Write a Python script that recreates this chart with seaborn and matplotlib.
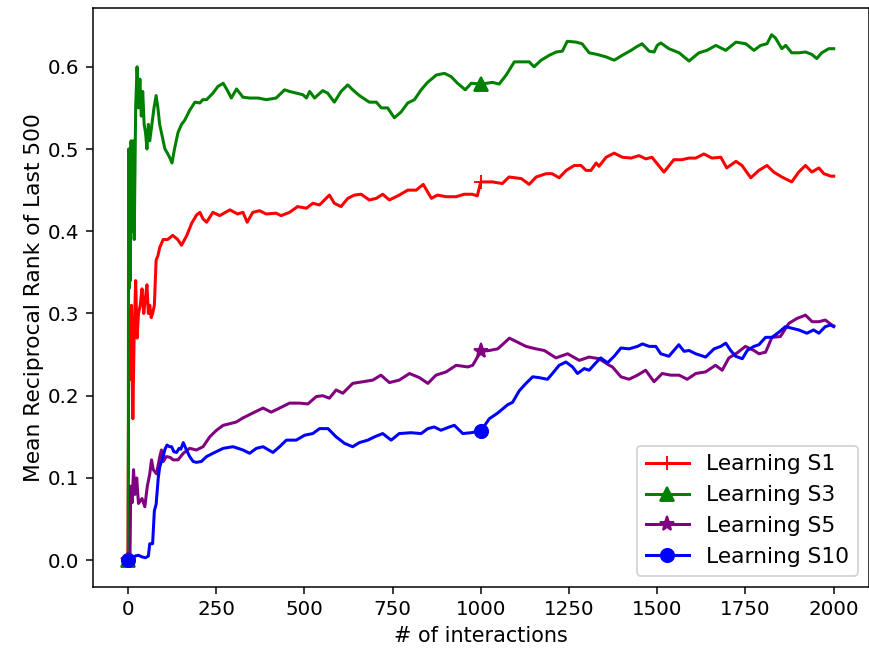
import numpy as np
import pandas as pd
import matplotlib
matplotlib.use("Agg")
import matplotlib.pyplot as plt
import seaborn as sns

# Mean reciprocal rank over the last 500 interactions, per learning setting
s1_x = [0, 3, 6, 10, 14, 18, 22, 26, 30, 35,
        40, 45, 50, 54, 58, 62, 66, 70, 75, 80,
        85, 90, 100, 113, 127, 141, 152, 167, 181, 195,
        204, 213, 223, 241, 260, 289, 311, 326, 338, 354,
        373, 392, 420, 434, 458, 481, 506, 524, 543, 557,
        571, 585, 604, 623, 642, 661, 684, 704, 722, 741,
        769, 793, 817, 837, 860, 877, 902, 930, 953, 976,
        990, 1000, 1033, 1061, 1080, 1115, 1137, 1157, 1185, 1202,
        1222, 1242, 1265, 1284, 1298, 1312, 1327, 1335, 1355, 1378,
        1401, 1426, 1448, 1468, 1485, 1500, 1519, 1547, 1570, 1590,
        1609, 1632, 1655, 1680, 1697, 1723, 1740, 1765, 1788, 1811,
        1830, 1853, 1881, 1901, 1920, 1938, 1958, 1972, 1992, 2000]
s1_y = [0, 0.30, 0.22, 0.31, 0.172, 0.28, 0.34, 0.27, 0.30, 0.31,
        0.33, 0.30, 0.32, 0.335, 0.30, 0.31, 0.295, 0.30, 0.31, 0.365,
        0.37, 0.38, 0.39, 0.39, 0.395, 0.39, 0.383, 0.395, 0.41, 0.42,
        0.423, 0.415, 0.411, 0.423, 0.419, 0.426, 0.421, 0.423, 0.411, 0.423,
        0.425, 0.421, 0.422, 0.419, 0.423, 0.43, 0.428, 0.434, 0.432, 0.438,
        0.444, 0.434, 0.43, 0.44, 0.444, 0.445, 0.438, 0.44, 0.445, 0.438,
        0.444, 0.45, 0.45, 0.457, 0.44, 0.444, 0.442, 0.442, 0.445, 0.445,
        0.443, 0.46, 0.46, 0.458, 0.466, 0.464, 0.457, 0.466, 0.47, 0.47,
        0.465, 0.474, 0.48, 0.48, 0.474, 0.474, 0.483, 0.479, 0.49, 0.495,
        0.49, 0.489, 0.492, 0.488, 0.49, 0.482, 0.472, 0.487, 0.487, 0.489,
        0.489, 0.494, 0.489, 0.49, 0.477, 0.485, 0.48, 0.465, 0.474, 0.48,
        0.472, 0.466, 0.46, 0.472, 0.48, 0.472, 0.477, 0.47, 0.467, 0.467]

s3_x = [0, 1, 2, 3, 5, 7, 9, 12, 15, 18,
        22, 26, 30, 34, 38, 42, 46, 50, 54, 58,
        62, 68, 74, 80, 85, 90, 95, 100, 105, 112,
        118, 125, 132, 142, 152, 161, 175, 190, 204, 212,
        223, 241, 255, 270, 281, 293, 308, 326, 345, 369,
        392, 420, 444, 458, 477, 496, 506, 515, 529, 552,
        566, 585, 604, 623, 637, 656, 684, 704, 718, 736,
        755, 774, 793, 812, 831, 849, 874, 897, 916, 934,
        956, 973, 1000, 1033, 1052, 1072, 1095, 1118, 1137, 1151,
        1171, 1194, 1214, 1231, 1245, 1270, 1287, 1307, 1330, 1355,
        1378, 1401, 1426, 1440, 1457, 1477, 1491, 1500, 1510, 1533,
        1562, 1590, 1618, 1641, 1666, 1694, 1723, 1751, 1774, 1793,
        1811, 1824, 1835, 1853, 1864, 1881, 1901, 1920, 1938, 1952,
        1966, 1986, 2000]
s3_y = [0, 0, 0.50, 0.33, 0.50, 0.34, 0.51, 0.40, 0.51, 0.39,
        0.55, 0.60, 0.55, 0.585, 0.54, 0.57, 0.53, 0.52, 0.50, 0.53,
        0.51, 0.53, 0.55, 0.565, 0.55, 0.53, 0.52, 0.51, 0.50, 0.495,
        0.49, 0.483, 0.50, 0.52, 0.53, 0.535, 0.547, 0.557, 0.556, 0.56,
        0.56, 0.568, 0.576, 0.58, 0.572, 0.562, 0.573, 0.563, 0.562, 0.562,
        0.56, 0.562, 0.572, 0.57, 0.568, 0.566, 0.562, 0.57, 0.562, 0.571,
        0.568, 0.557, 0.57, 0.578, 0.572, 0.565, 0.557, 0.557, 0.55, 0.55,
        0.538, 0.545, 0.556, 0.56, 0.572, 0.581, 0.59, 0.592, 0.588, 0.58,
        0.572, 0.58, 0.579, 0.581, 0.579, 0.59, 0.606, 0.606, 0.606, 0.60,
        0.608, 0.614, 0.618, 0.619, 0.631, 0.63, 0.628, 0.617, 0.615, 0.612,
        0.608, 0.614, 0.62, 0.624, 0.628, 0.619, 0.618, 0.626, 0.629, 0.622,
        0.617, 0.607, 0.617, 0.62, 0.626, 0.62, 0.63, 0.628, 0.62, 0.626,
        0.628, 0.639, 0.635, 0.622, 0.626, 0.617, 0.617, 0.618, 0.615, 0.61,
        0.617, 0.622, 0.622]

s5_x = [0, 6, 8, 12, 16, 20, 25, 30, 40, 48,
        55, 62, 67, 72, 81, 90, 95, 100, 109, 120,
        128, 142, 157, 175, 194, 213, 232, 251, 270, 289,
        307, 326, 354, 383, 406, 430, 458, 487, 510, 534,
        552, 571, 590, 609, 637, 666, 694, 717, 741, 769,
        798, 826, 850, 873, 902, 930, 963, 977, 1000, 1024,
        1048, 1066, 1081, 1100, 1128, 1156, 1180, 1213, 1246, 1279,
        1307, 1335, 1364, 1373, 1397, 1420, 1444, 1467, 1491, 1514,
        1538, 1562, 1585, 1609, 1637, 1665, 1684, 1703, 1726, 1750,
        1774, 1788, 1807, 1825, 1849, 1873, 1896, 1920, 1939, 1958,
        1976, 1995, 2000]
s5_y = [0, 0, 0.09, 0.07, 0.11, 0.08, 0.10, 0.069, 0.075, 0.065,
        0.09, 0.105, 0.122, 0.11, 0.105, 0.125, 0.134, 0.12, 0.126, 0.125,
        0.122, 0.122, 0.13, 0.136, 0.134, 0.138, 0.15, 0.158, 0.164, 0.166,
        0.168, 0.173, 0.179, 0.185, 0.18, 0.185, 0.191, 0.191, 0.19, 0.199,
        0.20, 0.197, 0.207, 0.203, 0.215, 0.217, 0.219, 0.225, 0.216, 0.219,
        0.227, 0.222, 0.215, 0.225, 0.229, 0.237, 0.235, 0.237, 0.254, 0.255,
        0.257, 0.264, 0.27, 0.266, 0.26, 0.257, 0.255, 0.246, 0.251, 0.243,
        0.247, 0.245, 0.237, 0.235, 0.223, 0.22, 0.225, 0.231, 0.217, 0.227,
        0.225, 0.225, 0.22, 0.227, 0.229, 0.237, 0.231, 0.246, 0.252, 0.26,
        0.255, 0.251, 0.253, 0.271, 0.272, 0.288, 0.294, 0.298, 0.29, 0.29,
        0.292, 0.286, 0.285]

s10_x = [0, 10, 20, 30, 40, 50, 58, 62, 70, 75,
         80, 86, 90, 95, 100, 105, 111, 118, 124, 130,
         138, 145, 150, 157, 165, 175, 185, 194, 208, 223,
         241, 270, 298, 326, 345, 364, 383, 411, 430, 449,
         477, 501, 524, 543, 567, 590, 614, 637, 656, 680,
         699, 722, 746, 769, 802, 831, 850, 868, 887, 911,
         925, 949, 972, 1000, 1024, 1048, 1076, 1090, 1109, 1128,
         1147, 1165, 1189, 1203, 1222, 1241, 1260, 1274, 1293, 1307,
         1326, 1340, 1359, 1378, 1397, 1420, 1444, 1458, 1477, 1496,
         1510, 1533, 1547, 1561, 1576, 1590, 1609, 1623, 1637, 1661,
         1680, 1694, 1708, 1722, 1741, 1755, 1774, 1788, 1807, 1825,
         1844, 1863, 1882, 1901, 1924, 1943, 1958, 1976, 1991, 2000]
s10_y = [0, 0, 0.005, 0.006, 0.004, 0.003, 0.005, 0.02, 0.02, 0.06,
         0.068, 0.10, 0.113, 0.12, 0.126, 0.135, 0.14, 0.138, 0.138, 0.132,
         0.131, 0.136, 0.135, 0.143, 0.135, 0.126, 0.12, 0.119, 0.12, 0.126,
         0.13, 0.136, 0.138, 0.134, 0.13, 0.136, 0.138, 0.131, 0.138, 0.146,
         0.146, 0.152, 0.154, 0.16, 0.16, 0.15, 0.142, 0.138, 0.143, 0.146,
         0.15, 0.154, 0.146, 0.154, 0.155, 0.154, 0.16, 0.162, 0.158, 0.162,
         0.164, 0.154, 0.155, 0.157, 0.172, 0.179, 0.189, 0.192, 0.206, 0.215,
         0.223, 0.222, 0.22, 0.227, 0.237, 0.241, 0.235, 0.227, 0.233, 0.231,
         0.24, 0.246, 0.24, 0.248, 0.258, 0.257, 0.26, 0.263, 0.26, 0.26,
         0.251, 0.248, 0.255, 0.262, 0.254, 0.255, 0.251, 0.249, 0.247, 0.257,
         0.26, 0.264, 0.255, 0.248, 0.245, 0.255, 0.26, 0.262, 0.271, 0.271,
         0.277, 0.284, 0.282, 0.28, 0.276, 0.28, 0.276, 0.284, 0.286, 0.284]

series = [
    ("Learning S1", s1_x, s1_y, "red", "+", 7),
    ("Learning S3", s3_x, s3_y, "green", "^", 7),
    ("Learning S5", s5_x, s5_y, "purple", "*", 8),
    ("Learning S10", s10_x, s10_y, "blue", "o", 7),
]
marker_at = (0, 1000)

dpi = 136
fig = plt.figure(figsize=(869 / dpi, 654 / dpi), dpi=dpi)
ax = fig.add_axes([92.6 / 869, 1 - 586.5 / 654, (869 - 92.6) / 869, (586.5 - 8.4) / 654])

for label, xs, ys, color, mk, ms in series:
    assert len(xs) == len(ys)
    df = pd.DataFrame({"x": xs, "y": ys})
    every = [i for i, v in enumerate(xs) if v in marker_at]
    sns.lineplot(data=df, x="x", y="y", ax=ax, color=color, marker=mk,
                 markevery=every, markersize=ms, linewidth=1.6,
                 markeredgecolor=color, markerfacecolor=color,
                 markeredgewidth=1.0, label=label, sort=False)

ax.set_xlim(-100, 2100)
ax.set_ylim(-0.032, 0.671)
ax.set_xticks([0, 250, 500, 750, 1000, 1250, 1500, 1750, 2000])
ax.set_yticks([0.0, 0.1, 0.2, 0.3, 0.4, 0.5, 0.6])
ax.tick_params(labelsize=10.5)
ax.set_xlabel("# of interactions", fontsize=11)
ax.set_ylabel("Mean Reciprocal Rank of Last 500", fontsize=11.5, labelpad=2)
ax.legend(loc="lower right", fontsize=11.5)

fig.savefig("out.png", dpi=dpi)
